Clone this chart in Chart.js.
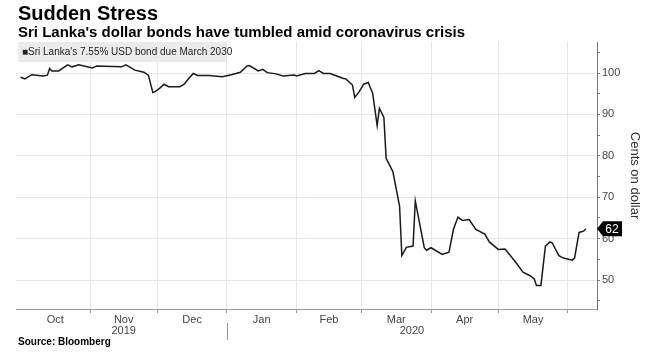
<!DOCTYPE html>
<html><head><meta charset="utf-8">
<script src="https://cdn.jsdelivr.net/npm/chart.js@4"></script>
<style>
html,body{margin:0;padding:0;background:#fff;}
#wrap{position:relative;width:646px;height:355px;overflow:hidden;font-family:'Liberation Sans',Arial,sans-serif;}
#title{position:absolute;left:18px;top:2px;font-size:20px;font-weight:bold;color:#000;white-space:nowrap;}
#sub{position:absolute;left:18px;top:23px;font-size:15px;font-weight:bold;color:#000;white-space:nowrap;}
#legend{position:absolute;left:18px;top:42px;width:208px;height:20px;background:#ebebeb;font-size:10px;line-height:20px;color:#222;padding-left:4px;box-sizing:border-box;white-space:nowrap;z-index:2;}
#src{position:absolute;left:18px;top:336px;font-size:10px;font-weight:bold;color:#000;}
canvas{position:absolute;left:0;top:0;}
</style></head>
<body><div id="wrap">
<canvas id="c" width="646" height="355"></canvas>
<div id="title">Sudden Stress</div>
<div id="sub">Sri Lanka's dollar bonds have tumbled amid coronavirus crisis</div>
<div id="legend"></div>
<div id="src">Source: Bloomberg</div>
</div>
<script>
const seriesName = "Sri Lanka's 7.55% USD bond due March 2030";
const dates = ['2019-10-01','2019-10-03','2019-10-06','2019-10-11','2019-10-13','2019-10-14','2019-10-15','2019-10-18','2019-10-22','2019-10-24','2019-10-27',
'2019-11-02','2019-11-04','2019-11-11','2019-11-15','2019-11-17','2019-11-21','2019-11-25','2019-11-27','2019-11-29','2019-11-30',
'2019-12-02','2019-12-04','2019-12-06','2019-12-11','2019-12-13','2019-12-15','2019-12-17','2019-12-19','2019-12-24','2019-12-30',
'2020-01-03','2020-01-07','2020-01-10','2020-01-11','2020-01-15','2020-01-17','2020-01-19','2020-01-23','2020-01-26','2020-01-31',
'2020-02-01','2020-02-05','2020-02-09','2020-02-11','2020-02-13','2020-02-16','2020-02-19','2020-02-22','2020-02-23','2020-02-26','2020-02-27','2020-02-29',
'2020-03-02','2020-03-04','2020-03-06','2020-03-08','2020-03-09','2020-03-11','2020-03-12','2020-03-15','2020-03-18','2020-03-19','2020-03-21','2020-03-24','2020-03-25','2020-03-29','2020-03-30',
'2020-04-01','2020-04-06','2020-04-09','2020-04-11','2020-04-13','2020-04-15','2020-04-18','2020-04-21','2020-04-25','2020-04-27',
'2020-05-01','2020-05-04','2020-05-07','2020-05-09','2020-05-12','2020-05-15','2020-05-17','2020-05-18','2020-05-20','2020-05-22','2020-05-24','2020-05-25','2020-05-28','2020-05-30',
'2020-06-03','2020-06-04','2020-06-06','2020-06-08','2020-06-09'];
const prices = [99.0,98.6,99.6,99.3,99.5,101.1,100.5,100.5,102.0,101.5,102.0,
101.2,101.7,101.6,101.5,102.0,100.7,100.2,99.5,95.3,95.5,
96.3,97.3,96.7,96.7,97.3,98.7,99.9,99.4,99.4,99.1,
99.6,100.2,101.7,101.8,100.5,100.9,100.1,99.8,99.3,99.5,
99.3,99.9,99.9,100.6,99.9,99.9,99.3,98.7,98.6,97.1,94.1,95.5,
97.3,97.7,95.1,87.3,91.5,89.3,79.4,76.2,67.8,55.9,57.9,58.2,69.1,57.8,57.2,
57.8,56.2,56.7,62.2,65.2,64.4,64.6,62.2,61.1,59.2,
57.4,57.5,55.5,54.1,51.9,51.1,50.3,48.7,48.7,58.2,59.2,59.0,55.9,55.3,
54.8,55.3,61.5,61.8,62.4];
const monthLabels = ['Oct','Nov','Dec','Jan','Feb','Mar','Apr','May'];
const monthStarts = ['2019-10-01','2019-11-01','2019-12-01','2020-01-01','2020-02-01','2020-03-01','2020-04-01','2020-05-01','2020-06-01'];
const yearLabels = ['2019','2020'];
const yearStarts = ['2019-10-01','2020-01-01'];
const yTickValues = [45,50,55,60,65,70,75,80,85,90,95,100,105];
const lastLabel = '62';
const xStart = '2019-09-29', xEnd = '2020-06-14';
const yMin = 43, yMax = 107.5;

document.getElementById('legend').textContent = '\u25A0' + seriesName;

const DAY = 86400000;
const t0 = Date.parse(xStart);
const day = s => (Date.parse(s) - t0) / DAY;
const pts = dates.map((d,i)=>({x:day(d), y:prices[i]}));
const boundaries = monthStarts.slice(1).map(day);
const mids = monthLabels.map((m,i)=> (day(monthStarts[i]) + day(monthStarts[i+1]))/2);
const labelMap = {};
mids.forEach((v,i)=>labelMap[v]=monthLabels[i]);
const boundSet = new Set(boundaries);
const xTicks = boundaries.concat(mids).sort((a,b)=>a-b);
const FONT = "'Liberation Sans', Arial, sans-serif";

const extras = {
  id:'extras',
  afterDraw(chart){
    const ctx = chart.ctx, xs = chart.scales.x, ys = chart.scales.y;
    ctx.save();
    ctx.font = '11px ' + FONT;
    ctx.fillStyle = '#444';
    ctx.textAlign = 'center';
    ctx.textBaseline = 'middle';
    yearLabels.forEach((yl,i)=>{
      const a = day(yearStarts[i]), b = i===0 ? day(yearStarts[1]) : day(xEnd);
      ctx.fillText(yl, xs.getPixelForValue((a+b)/2), 331);
    });
    const sx = Math.round(xs.getPixelForValue(day(yearStarts[1]))) + 0.5;
    ctx.strokeStyle = '#999'; ctx.lineWidth = 1;
    ctx.beginPath(); ctx.moveTo(sx, 323); ctx.lineTo(sx, 340); ctx.stroke();
    // end label
    const last = prices[prices.length-1];
    const px = chart.chartArea.right, py = ys.getPixelForValue(last);
    ctx.fillStyle = '#000';
    ctx.beginPath();
    ctx.moveTo(px, py);
    ctx.lineTo(px+6, py-7.5); ctx.lineTo(px+25, py-7.5);
    ctx.lineTo(px+25, py+7.5); ctx.lineTo(px+6, py+7.5);
    ctx.closePath(); ctx.fill();
    ctx.fillStyle = '#fff';
    ctx.font = '12px ' + FONT;
    ctx.textAlign = 'center';
    ctx.fillText(lastLabel, px+15, py+0.5);
    ctx.restore();
  }
};

new Chart(document.getElementById('c'), {
  type:'line',
  data:{datasets:[{label:seriesName, data:pts, borderColor:'#1a1a1a', borderWidth:1.5, pointRadius:0, tension:0, fill:false}]},
  options:{
    responsive:false, animation:false, devicePixelRatio:1,
    layout:{padding:{left:16, top:42, right:0, bottom:0}},
    plugins:{legend:{display:false}, tooltip:{enabled:false}},
    scales:{
      x:{type:'linear', min:0, max:day(xEnd),
        afterBuildTicks(s){ s.ticks = xTicks.map(v=>({value:v})); },
        afterFit(s){ s.height = 46; },
        ticks:{autoSkip:false, maxRotation:0, padding:0, color:'#444', font:{size:11, family:FONT},
          callback:(v)=> labelMap[v] || ''},
        grid:{color:c=> (c.tick && boundSet.has(c.tick.value)) ? '#e6e6e6' : 'rgba(0,0,0,0)',
          tickColor:c=> (c.tick && boundSet.has(c.tick.value)) ? '#999' : 'rgba(0,0,0,0)', tickLength:4},
        border:{display:true, color:'#999', width:1}
      },
      y:{type:'linear', position:'right', min:yMin, max:yMax,
        afterBuildTicks(s){ s.ticks = yTickValues.map(v=>({value:v})); },
        afterFit(s){ s.width = 49; },
        ticks:{padding:2, color:'#444', font:{size:11, family:FONT}, callback:v=> v%10===0 ? String(v) : ''},
        grid:{color:c=> (c.tick && c.tick.value%10===0) ? '#e6e6e6' : 'rgba(0,0,0,0)', tickColor:'#777', tickLength:3},
        border:{display:true, color:'#777', width:1},
        title:{display:true, text:'Cents on dollar', color:'#333', font:{size:13, family:FONT}, padding:4}
      }
    }
  },
  plugins:[extras]
});
</script>
</body></html>
